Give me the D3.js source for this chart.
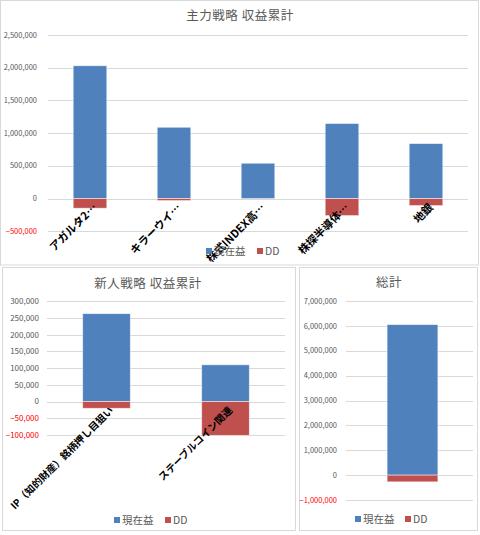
<!DOCTYPE html>
<html>
<head>
<meta charset="utf-8">
<script src="https://cdn.jsdelivr.net/npm/d3@7"></script>
<style>
  html, body { margin: 0; padding: 0; background: #ffffff; }
  svg { display: block; }
  text { font-family: "Noto Sans CJK JP", "Noto Sans", sans-serif; }
</style>
</head>
<body>
<svg id="chart" width="480" height="535"></svg>
<script>
// ---- Data ----
const mainTitle = "主力戦略 収益累計";
const mainCategories = ["アガルタ2…", "キラーウイ…", "株式INDEX高…", "株探半導体…", "地銀"];
const mainProfit = [2030000, 1090000, 540000, 1147000, 840000];
const mainDD = [-147000, -30000, 0, -260000, -107000];
const mainTicks = [-500000, 0, 500000, 1000000, 1500000, 2000000, 2500000];

const newTitle = "新人戦略 収益累計";
const newCategories = ["IP（知的財産）銘柄押し目狙い", "ステーブルコイン関連"];
const newProfit = [263000, 110000];
const newDD = [-20000, -101000];
const newTicks = [-100000, -50000, 0, 50000, 100000, 150000, 200000, 250000, 300000];

const totalTitle = "総計";
const totalCategories = [""];
const totalProfit = [6050000];
const totalDD = [-270000];
const totalTicks = [-1000000, 0, 1000000, 2000000, 3000000, 4000000, 5000000, 6000000, 7000000];

const seriesNames = ["現在益", "DD"];
const seriesColors = ["#4F81BD", "#C0504D"];

// ---- Drawing ----
const svg = d3.select("#chart");
const fmt = d3.format(",");

// frames
const frames = [
  {x: 0.5, y: 0.5, w: 478, h: 264.5},
  {x: 2.5, y: 267.5, w: 293, h: 263},
  {x: 299.5, y: 267.5, w: 178, h: 263}
];
svg.selectAll("rect.frame").data(frames).join("rect")
  .attr("class", "frame")
  .attr("x", d => d.x).attr("y", d => d.y)
  .attr("width", d => d.w).attr("height", d => d.h)
  .attr("fill", "#fff").attr("stroke", "#d9d9d9").attr("stroke-width", 1);

function drawChart(cfg) {
  const g = svg.append("g");
  const y = d3.scaleLinear().domain(cfg.domain).range([cfg.yBottom, cfg.yTop]);
  const x = d3.scaleBand().domain(cfg.categories).range(cfg.xRange)
    .paddingInner(0.6).paddingOuter(0.3);

  // title
  g.append("text").attr("x", cfg.titleX).attr("y", cfg.titleY)
    .attr("text-anchor", "middle").attr("font-size", "12.5px")
    .attr("fill", "#595959").attr("letter-spacing", "0.5px").text(cfg.title);

  // gridlines
  g.selectAll("line.grid").data(cfg.ticks).join("line")
    .attr("x1", cfg.gridX[0]).attr("x2", cfg.gridX[1])
    .attr("y1", d => Math.round(y(d)) + 0.5).attr("y2", d => Math.round(y(d)) + 0.5)
    .attr("stroke", "#d9d9d9").attr("stroke-width", 1);

  // tick labels
  g.selectAll("text.tick").data(cfg.ticks).join("text")
    .attr("x", cfg.tickX).attr("y", d => y(d)).attr("dy", "0.35em")
    .attr("text-anchor", "end").attr("font-size", cfg.tickSize)
    .attr("font-family", "Liberation Sans, Arial, sans-serif")
    .attr("fill", d => d < 0 ? "#FF0000" : "#595959")
    .text(d => fmt(d));

  // bars
  const bw = x.bandwidth();
  g.selectAll("rect.profit").data(cfg.categories).join("rect")
    .attr("x", d => x(d)).attr("width", bw)
    .attr("y", (d, i) => y(cfg.profit[i]))
    .attr("height", (d, i) => y(0) - y(cfg.profit[i]))
    .attr("fill", seriesColors[0]).attr("stroke", "#ffffff").attr("stroke-opacity", 0.6).attr("stroke-width", 0.8);
  g.selectAll("rect.dd").data(cfg.categories).join("rect")
    .attr("x", d => x(d)).attr("width", bw)
    .attr("y", y(0))
    .attr("height", (d, i) => y(cfg.dd[i]) - y(0))
    .attr("fill", seriesColors[1]).attr("stroke", "#ffffff").attr("stroke-opacity", 0.6).attr("stroke-width", 0.8);

  // category labels
  g.selectAll("text.cat").data(cfg.categories).join("text")
    .attr("transform", d => `translate(${x(d) + bw / 2 + 5},${y(0) + 7}) rotate(-45)`)
    .attr("text-anchor", "end").attr("dy", "0.35em")
    .attr("font-size", cfg.catSize).attr("font-weight", "bold").attr("fill", "#000")
    .text(d => d);

  // legend
  const lg = g.append("g").attr("transform", `translate(${cfg.legendX},${cfg.legendY})`);
  const items = [
    {name: seriesNames[0], color: seriesColors[0], dx: 0},
    {name: seriesNames[1], color: seriesColors[1], dx: cfg.legendGap}
  ];
  items.forEach(it => {
    lg.append("rect").attr("x", it.dx).attr("y", -3).attr("width", 6).attr("height", 6).attr("fill", it.color);
    lg.append("text").attr("x", it.dx + 8).attr("y", 0).attr("dy", "0.35em")
      .attr("font-size", "10.5px").attr("fill", "#595959").text(it.name);
  });
}

drawChart({
  title: mainTitle, titleX: 240, titleY: 20,
  categories: mainCategories, profit: mainProfit, dd: mainDD, ticks: mainTicks,
  domain: [-500000, 2500000], yBottom: 231.3, yTop: 35,
  xRange: [48, 468], gridX: [48, 468], tickX: 37, tickSize: "7.5px", catSize: "11px",
  legendX: 206, legendY: 251, legendGap: 51
});

drawChart({
  title: newTitle, titleX: 148, titleY: 288,
  categories: newCategories, profit: newProfit, dd: newDD, ticks: newTicks,
  domain: [-100000, 300000], yBottom: 435, yTop: 301.3,
  xRange: [47, 285], gridX: [47, 285], tickX: 39, tickSize: "8px", catSize: "10px",
  legendX: 114, legendY: 520, legendGap: 51
});

drawChart({
  title: totalTitle, titleX: 389, titleY: 287,
  categories: totalCategories, profit: totalProfit, dd: totalDD, ticks: totalTicks,
  domain: [-1000000, 7000000], yBottom: 500, yTop: 301,
  xRange: [349, 476], gridX: [346, 473], tickX: 337, tickSize: "7.5px", catSize: "10px",
  legendX: 355, legendY: 519, legendGap: 50
});
</script>
</body>
</html>
